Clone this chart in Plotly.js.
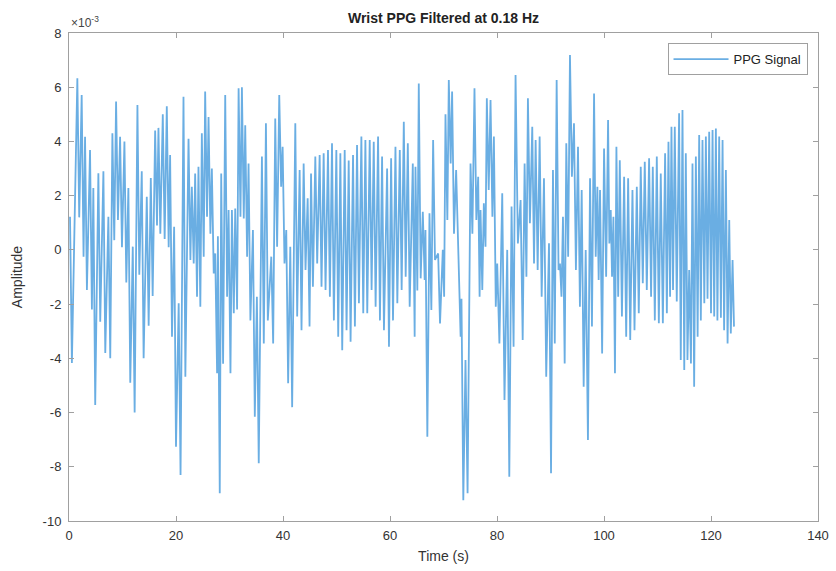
<!DOCTYPE html>
<html>
<head>
<meta charset="utf-8">
<script src="https://cdn.plot.ly/plotly-3.0.1.min.js"></script>
<style>
html,body{margin:0;padding:0;background:#fff;}
#chart{width:836px;height:571px;}
</style>
</head>
<body>
<div id="chart"></div>
<script>
// Amplitudes in units of 1e-3 (axis shows x10^-3 multiplier)
var peakTime = [0.19,1.56,2.37,3.0,3.93,4.55,5.49,6.43,7.36,8.11,8.8,9.55,10.36,11.1,11.92,12.79,13.6,14.54,15.29,16.1,16.72,17.53,18.28,18.9,19.65,20.5,
21.4,22.34,22.96,23.58,24.2,24.83,25.45,26.08,26.7,27.33,27.83,28.45,29.2,29.83,30.45,31.07,31.7,32.32,32.94,33.56,34.38,35.12,36.06,36.81,37.81,38.55,39.3,39.93,40.61,41.36,
42.3,43.11,43.86,44.61,45.24,46.04,46.85,47.6,48.41,49.16,49.97,50.72,51.53,52.28,53.09,53.84,54.65,55.4,56.21,56.96,57.77,58.52,59.46,60.21,61.02,61.83,62.58,63.33,
64.26,64.76,65.38,66.13,66.63,67.38,68.06,69.0,69.87,70.37,70.99,71.61,72.36,72.99,73.36,74.11,75.05,75.79,76.48,76.92,77.54,78.1,78.79,79.42,80.04,80.98,81.91,82.72,83.47,84.41,
85.16,85.78,86.59,87.22,87.97,88.78,89.72,90.46,91.15,91.77,92.33,92.95,93.64,94.39,95.14,95.83,96.58,97.39,98.14,98.76,99.26,100.01,100.76,101.26,101.76,102.32,102.95,103.76,104.51,105.32,106.13,
106.87,107.62,108.43,109.12,109.87,110.61,111.42,112.05,112.61,113.23,114.04,114.67,115.29,115.92,116.54,117.17,117.79,118.41,119.04,119.66,120.29,120.91,121.53,122.16,122.78,123.41,124.03];

var peakAmp = [1.22,6.33,5.71,4.17,3.68,2.28,2.83,2.9,1.22,4.3,5.47,4.17,4.0,2.28,0.12,5.34,2.9,1.96,2.65,4.4,4.5,5.0,5.3,3.5,0.85,-1.97,
5.65,4.1,2.33,2.82,3.07,4.3,5.84,4.9,3.0,-0.13,0.5,2.82,5.71,1.47,1.47,1.53,5.96,6.0,4.6,3.19,0.73,-1.73,3.44,4.67,-0.25,4.85,5.71,3.8,0.73,0.12,
4.67,2.95,3.19,1.9,2.82,3.44,3.5,3.56,3.68,3.93,3.68,3.56,3.68,3.3,3.5,3.87,4.18,4.05,4.05,3.99,4.18,3.44,3.0,3.38,3.8,3.68,4.73,3.93,
3.19,3.07,6.14,1.41,0.73,1.35,4.05,-0.13,0,5.0,6.27,5.84,2.95,-1.6,-1.8,-4.06,3.19,5.96,2.7,1.47,1.72,5.59,5.53,4.18,-0.5,2.09,0,1.6,6.45,1.84,
3.19,5.59,4.54,4.05,4.18,2.64,0.24,2.95,6.27,-0.5,1.22,3.93,7.19,4.67,3.8,2.21,0,2.64,5.77,2.33,2.21,3.74,4.79,1.47,1.22,3.8,3.31,2.7,2.64,2.21,2.33,
3.07,3.25,3.38,3.07,3.44,2.82,3.56,3.99,4.54,4.54,5.04,5.16,3.56,-0.74,3.19,3.44,4.24,4.05,4.18,4.36,4.42,4.48,4.18,4.05,2.95,1.1,-0.37];

var troughTime = [0.54,1.91,2.72,3.35,4.28,4.9,5.84,6.78,7.71,8.46,9.15,9.9,10.71,11.45,12.27,13.14,13.95,14.89,15.64,16.45,17.07,17.88,18.63,19.25,20.0,20.85,
21.75,22.69,23.31,23.93,24.55,25.18,25.8,26.43,27.05,27.68,28.18,28.8,29.55,30.18,30.8,31.42,32.05,32.67,33.29,33.91,34.73,35.47,36.41,37.16,38.16,38.9,39.65,40.28,40.96,41.71,
42.65,43.46,44.21,44.96,45.59,46.39,47.2,47.95,48.76,49.51,50.32,51.07,51.88,52.63,53.44,54.19,55.0,55.75,56.56,57.31,58.12,58.87,59.81,60.56,61.37,62.18,62.93,63.68,
64.61,65.11,65.73,66.48,66.98,67.73,68.41,69.35,70.12,70.72,71.34,71.96,72.71,73.2,73.7,74.5,75.4,76.14,76.75,77.25,77.85,78.45,79.14,79.77,80.45,81.4,82.3,83.1,83.9,84.8,
85.5,86.15,86.92,87.6,88.35,89.2,90.1,90.8,91.5,92.05,92.65,93.3,94.0,94.75,95.5,96.2,97.0,97.75,98.45,99.0,99.65,100.4,101.0,101.5,102.05,102.65,103.35,104.15,104.9,105.7,106.5,
107.25,108.0,108.8,109.5,110.25,111.0,111.75,112.35,112.9,113.6,114.35,115.0,115.6,116.25,116.85,117.5,118.1,118.75,119.35,120.0,120.6,121.2,121.85,122.45,123.1,123.7,124.3];

var troughAmp = [-4.17,1.2,-0.25,-1.48,-2.2,-5.72,-2.65,-3.8,-4.0,0.36,1.1,0.1,-1.2,-4.9,-6.0,-0.92,-4.0,-2.8,-1.7,0.9,0.6,0.4,0.1,-3.2,-7.26,-8.3,
-4.68,-0.37,-0.5,-1.73,-2.1,-0.25,1.22,0.6,-0.87,-4.55,-8.98,-4.2,-1.73,-4.55,-2.34,-2.2,1.22,1.16,-0.25,-2.6,-6.15,-7.87,-3.45,-2.6,-3.45,0.12,2.33,-0.5,-4.92,-5.8,
-2.46,-2.96,-0.74,-2.83,-1.36,-0.5,-1.36,-1.48,-1.73,-2.6,-3.2,-3.7,-2.96,-3.39,-2.83,-1.97,-2.34,-2.34,-1.48,-2.1,-2.6,-2.96,-3.57,-2.6,-1.97,-1.48,-0.99,-2.1,
-3.2,-1.5,-1.05,-1.11,-6.89,-2.22,-0.37,-2.71,-1.73,1.1,3.19,0.6,0.49,-3.2,-9.23,-8.98,0.6,1.1,-1.73,-1.48,0.12,2.21,1.22,-2.1,-3.45,-5.54,-8.37,-3.57,0.24,-3.32,
-0.99,0.98,-0.5,-0.74,-1.73,-4.68,-8.24,-3.45,-0.74,-1.73,-4.19,-0.25,2.7,-0.74,-2.1,-5.05,-7.01,-2.83,-0.25,-1.11,-3.82,-0.99,0.24,-0.99,-4.55,-1.73,-2.46,-3.2,-3.32,-2.96,-2.34,
-1.23,-1.48,-1.73,-2.6,-2.71,-2.71,-2.34,-1.73,-1.48,-1.9,-4.06,-4.43,-4.06,-4.19,-5.05,-3.2,-2.6,-1.97,-1.8,-2.34,-2.46,-2.6,-2.5,-2.96,-3.45,-3.08,-2.83];

var xTickVals = [0,20,40,60,80,100,120,140];
var yTickVals = [-10,-8,-6,-4,-2,0,2,4,6,8];
var yTickText = ['-10','-8','-6','-4','-2','0','2','4','6','8'];

var xs = [], ys = [];
for (var i = 0; i < peakTime.length; i++) {
  xs.push(peakTime[i]); ys.push(peakAmp[i]);
  xs.push(troughTime[i]); ys.push(troughAmp[i]);
}

var font = 'Liberation Sans, Arial, Helvetica, sans-serif';
var trace = {
  x: xs, y: ys, type: 'scatter', mode: 'lines', name: 'PPG Signal',
  line: {color: '#6aaee3', width: 1.8}
};

var axisCommon = {
  showgrid: false, zeroline: false, showline: true, mirror: 'ticks',
  linecolor: '#a0a0a0', linewidth: 1, ticks: 'inside', ticklen: 5,
  tickcolor: '#a0a0a0', tickfont: {family: font, size: 13, color: '#333'}
};

var layout = {
  width: 836, height: 571,
  margin: {l: 69, r: 18, t: 33, b: 50},
  paper_bgcolor: '#fff', plot_bgcolor: '#fff',
  showlegend: true,
  title: {text: '<b>Wrist PPG Filtered at 0.18 Hz</b>', font: {family: font, size: 14, color: '#222'}, x: 0.5, xref: 'paper', xanchor: 'center', y: 0.968, yanchor: 'middle'},
  xaxis: Object.assign({}, axisCommon, {range: [0, 140], tickvals: xTickVals, ticklabelstandoff: 2,
    title: {text: 'Time (s)', font: {family: font, size: 14, color: '#333'}, standoff: 9}}),
  yaxis: Object.assign({}, axisCommon, {range: [-10, 8], tickvals: yTickVals, ticktext: yTickText, ticklabelstandoff: 4,
    title: {text: 'Amplitude', font: {family: font, size: 14, color: '#333'}, standoff: 16}}),
  legend: {x: 0.986, y: 0.979, xanchor: 'right', yanchor: 'top', bgcolor: '#fff', itemwidth: 55,
    bordercolor: '#a0a0a0', borderwidth: 1, font: {family: font, size: 13, color: '#222'}},
  annotations: [{xref: 'paper', yref: 'paper', x: 0.0, y: 1.0, xanchor: 'left', yanchor: 'bottom', showarrow: false,
    text: '\u00d710<sup>-3</sup>', font: {family: font, size: 12, color: '#444'}, yshift: 1}]
};

Plotly.newPlot('chart', [trace], layout, {displayModeBar: false, staticPlot: true});
</script>
</body>
</html>
